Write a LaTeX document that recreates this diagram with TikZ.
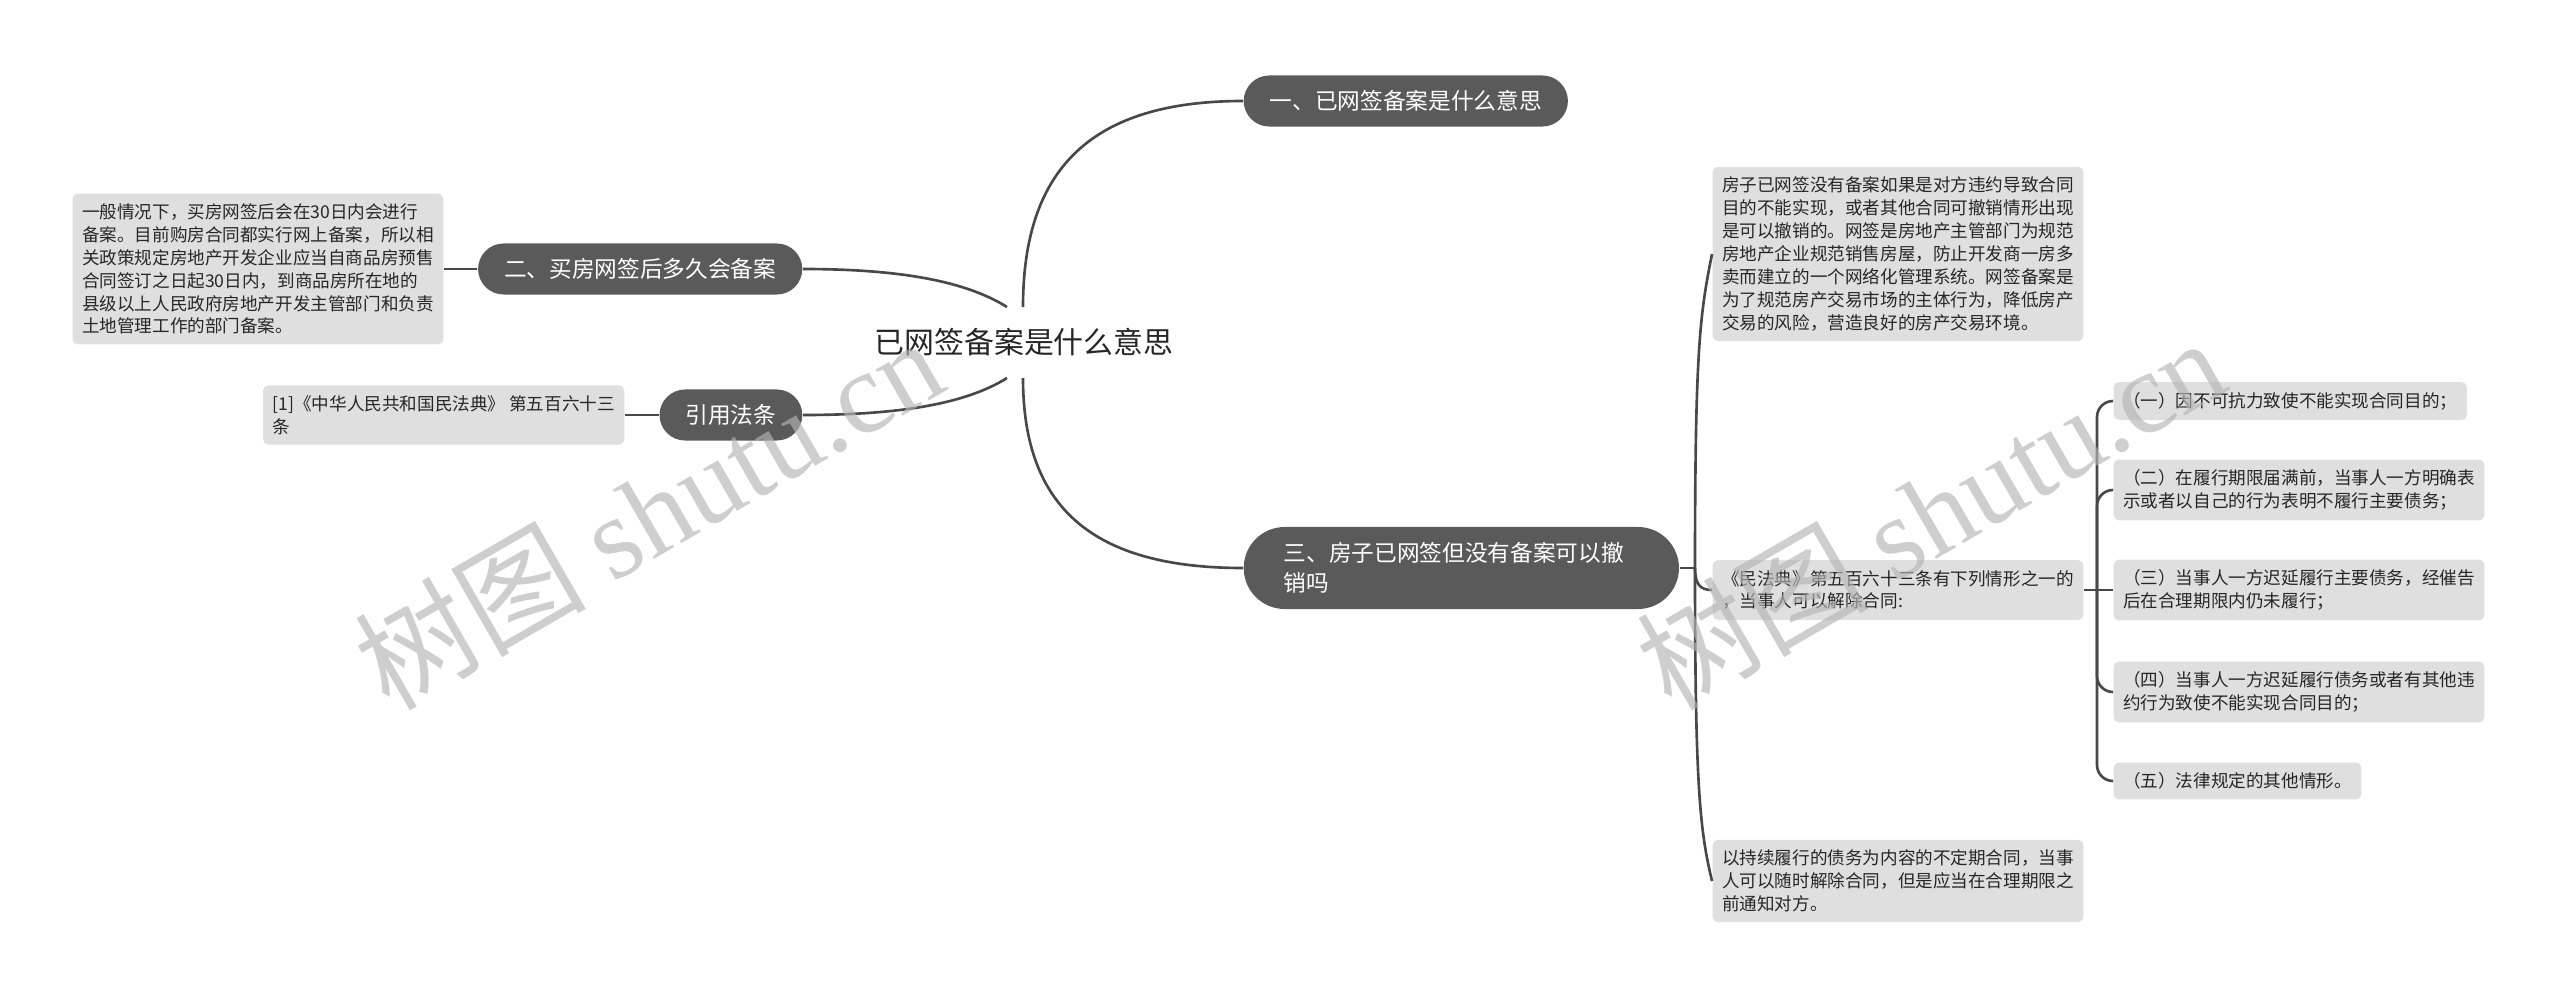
\documentclass[tikz,border=0pt]{standalone}
\usepackage{fontspec}
\setmainfont{Noto Sans CJK SC}
\newfontfamily\wmserif{Liberation Serif}
\usetikzlibrary{calc,positioning}
\definecolor{topicgray}{HTML}{5A5A5A}
\definecolor{leafgray}{HTML}{DFDFDF}
\definecolor{linkgray}{HTML}{484848}
\definecolor{titleink}{HTML}{262626}
\definecolor{markgray}{HTML}{B4B4B4}
\tikzset{
    mind map px/.style = {x=0.01cm, y=-0.01cm},
    central/.style     = {text=titleink, font=\fontsize{8.5}{10}\selectfont},
    topic/.style       = {fill=topicgray, text=white, rounded corners=0.255cm,
                          minimum height=0.51cm, inner xsep=0.26cm, inner ysep=0pt,
                          font=\fontsize{6.45}{8.5}\selectfont},
    wide topic/.style  = {topic, rounded corners=0.41cm, minimum height=0.82cm,
                          inner xsep=0.4cm, text width=3.55cm, align=left},
    leaf/.style        = {fill=leafgray, text=black!85, rounded corners=0.05cm,
                          align=left, inner xsep=0.095cm, inner ysep=0.1cm,
                          font=\fontsize{5}{6.5}\selectfont},
    link/.style        = {draw=linkgray, line width=0.75pt},
    elbow/.style       = {link, rounded corners=0.16cm},
    watermark/.style   = {text=markgray, opacity=0.65, rotate=30,
                          font=\fontsize{33}{33}\selectfont}
}
\def\spinex{1695}
\def\forkx{2097}

\begin{document}
\begin{tikzpicture}[mind map px]
\useasboundingbox (0,0) rectangle (2560,1000);

% ================= Central topic =================
\node[central] (root) at (1024,342) {已网签备案是什么意思};
\coordinate (root-n)  at (1023,307);
\coordinate (root-s)  at (1023,378);
\coordinate (root-nw) at (1007,307);
\coordinate (root-sw) at (1007,378);

% ================= Main topics =================
\node[topic, anchor=west] (what) at (1243,101) {一、已网签备案是什么意思};
\node[topic, anchor=east] (when) at (803,269) {二、买房网签后多久会备案};
\node[topic, anchor=east] (cite) at (803,415) {引用法条};
\node[wide topic, anchor=west] (revoke) at (1243,568)
    {三、房子已网签但没有备案可以撤\\销吗};

\draw[link] (root-n) .. controls +(0,-140) and +(-150,0) .. (what.west);
\draw[link] (root-s) .. controls +(0,130) and +(-150,0) .. (revoke.west);
\draw[link] (when.east) .. controls +(100,0) and +(-40,-25) .. (root-nw);
\draw[link] (cite.east) .. controls +(100,0) and +(-40,25) .. (root-sw);

% ================= Left details =================
\node[leaf, anchor=east] (when-text) at (444,269)
    {一般情况下，买房网签后会在30日内会进行\\
     备案。目前购房合同都实行网上备案，所以相\\
     关政策规定房地产开发企业应当自商品房预售\\
     合同签订之日起30日内，到商品房所在地的\\
     县级以上人民政府房地产开发主管部门和负责\\
     土地管理工作的部门备案。};
\node[leaf, anchor=east] (cite-text) at (625,415)
    {[1]《中华人民共和国民法典》 第五百六十三\\条};
\draw[link] (when.west) -- (when-text.east);
\draw[link] (cite.west) -- (cite-text.east);

% ================= Right details =================
\node[leaf, anchor=west] (law-a) at (1712,254)
    {房子已网签没有备案如果是对方违约导致合同\\
     目的不能实现，或者其他合同可撤销情形出现\\
     是可以撤销的。网签是房地产主管部门为规范\\
     房地产企业规范销售房屋，防止开发商一房多\\
     卖而建立的一个网络化管理系统。网签备案是\\
     为了规范房产交易市场的主体行为，降低房产\\
     交易的风险，营造良好的房产交易环境。};
\node[leaf, anchor=west] (law-b) at (1712,590)
    {《民法典》第五百六十三条有下列情形之一的\\，当事人可以解除合同:};
\node[leaf, anchor=west] (law-c) at (1712,881)
    {以持续履行的债务为内容的不定期合同，当事\\
     人可以随时解除合同，但是应当在合理期限之\\
     前通知对方。};

\coordinate (spine) at (\spinex,568);
\draw[link] (revoke.east) -- (spine);
\draw[link] (spine) .. controls +(0,-220) and +(-12,60) .. (law-a.west);
\draw[link] (spine) .. controls +(0,16) and +(-12,0) .. (law-b.west);
\draw[link] (spine) .. controls +(0,220) and +(-12,-50) .. (law-c.west);

% Cases listed under the civil code article.
\node[leaf, anchor=west] (case1) at (2113,401) {（一）因不可抗力致使不能实现合同目的；};
\node[leaf, anchor=west] (case2) at (2113,490)
    {（二）在履行期限届满前，当事人一方明确表\\示或者以自己的行为表明不履行主要债务；};
\node[leaf, anchor=west] (case3) at (2113,590)
    {（三）当事人一方迟延履行主要债务，经催告\\后在合理期限内仍未履行；};
\node[leaf, anchor=west] (case4) at (2113,692)
    {（四）当事人一方迟延履行债务或者有其他违\\约行为致使不能实现合同目的；};
\node[leaf, anchor=west] (case5) at (2113,781) {（五）法律规定的其他情形。};

\coordinate (fork) at (\forkx,590);
\draw[link] (law-b.east) -- (fork) -- (case3.west);
\foreach \k in {1,2,4,5}
    \draw[elbow] (fork) |- (case\k.west);

% ================= Watermark =================
\node[watermark] (mark-l) at (648,512) {树图 {\wmserif shutu.cn}};
\node[watermark] (mark-r) at (1930,512) {树图 {\wmserif shutu.cn}};

\end{tikzpicture}
\end{document}
